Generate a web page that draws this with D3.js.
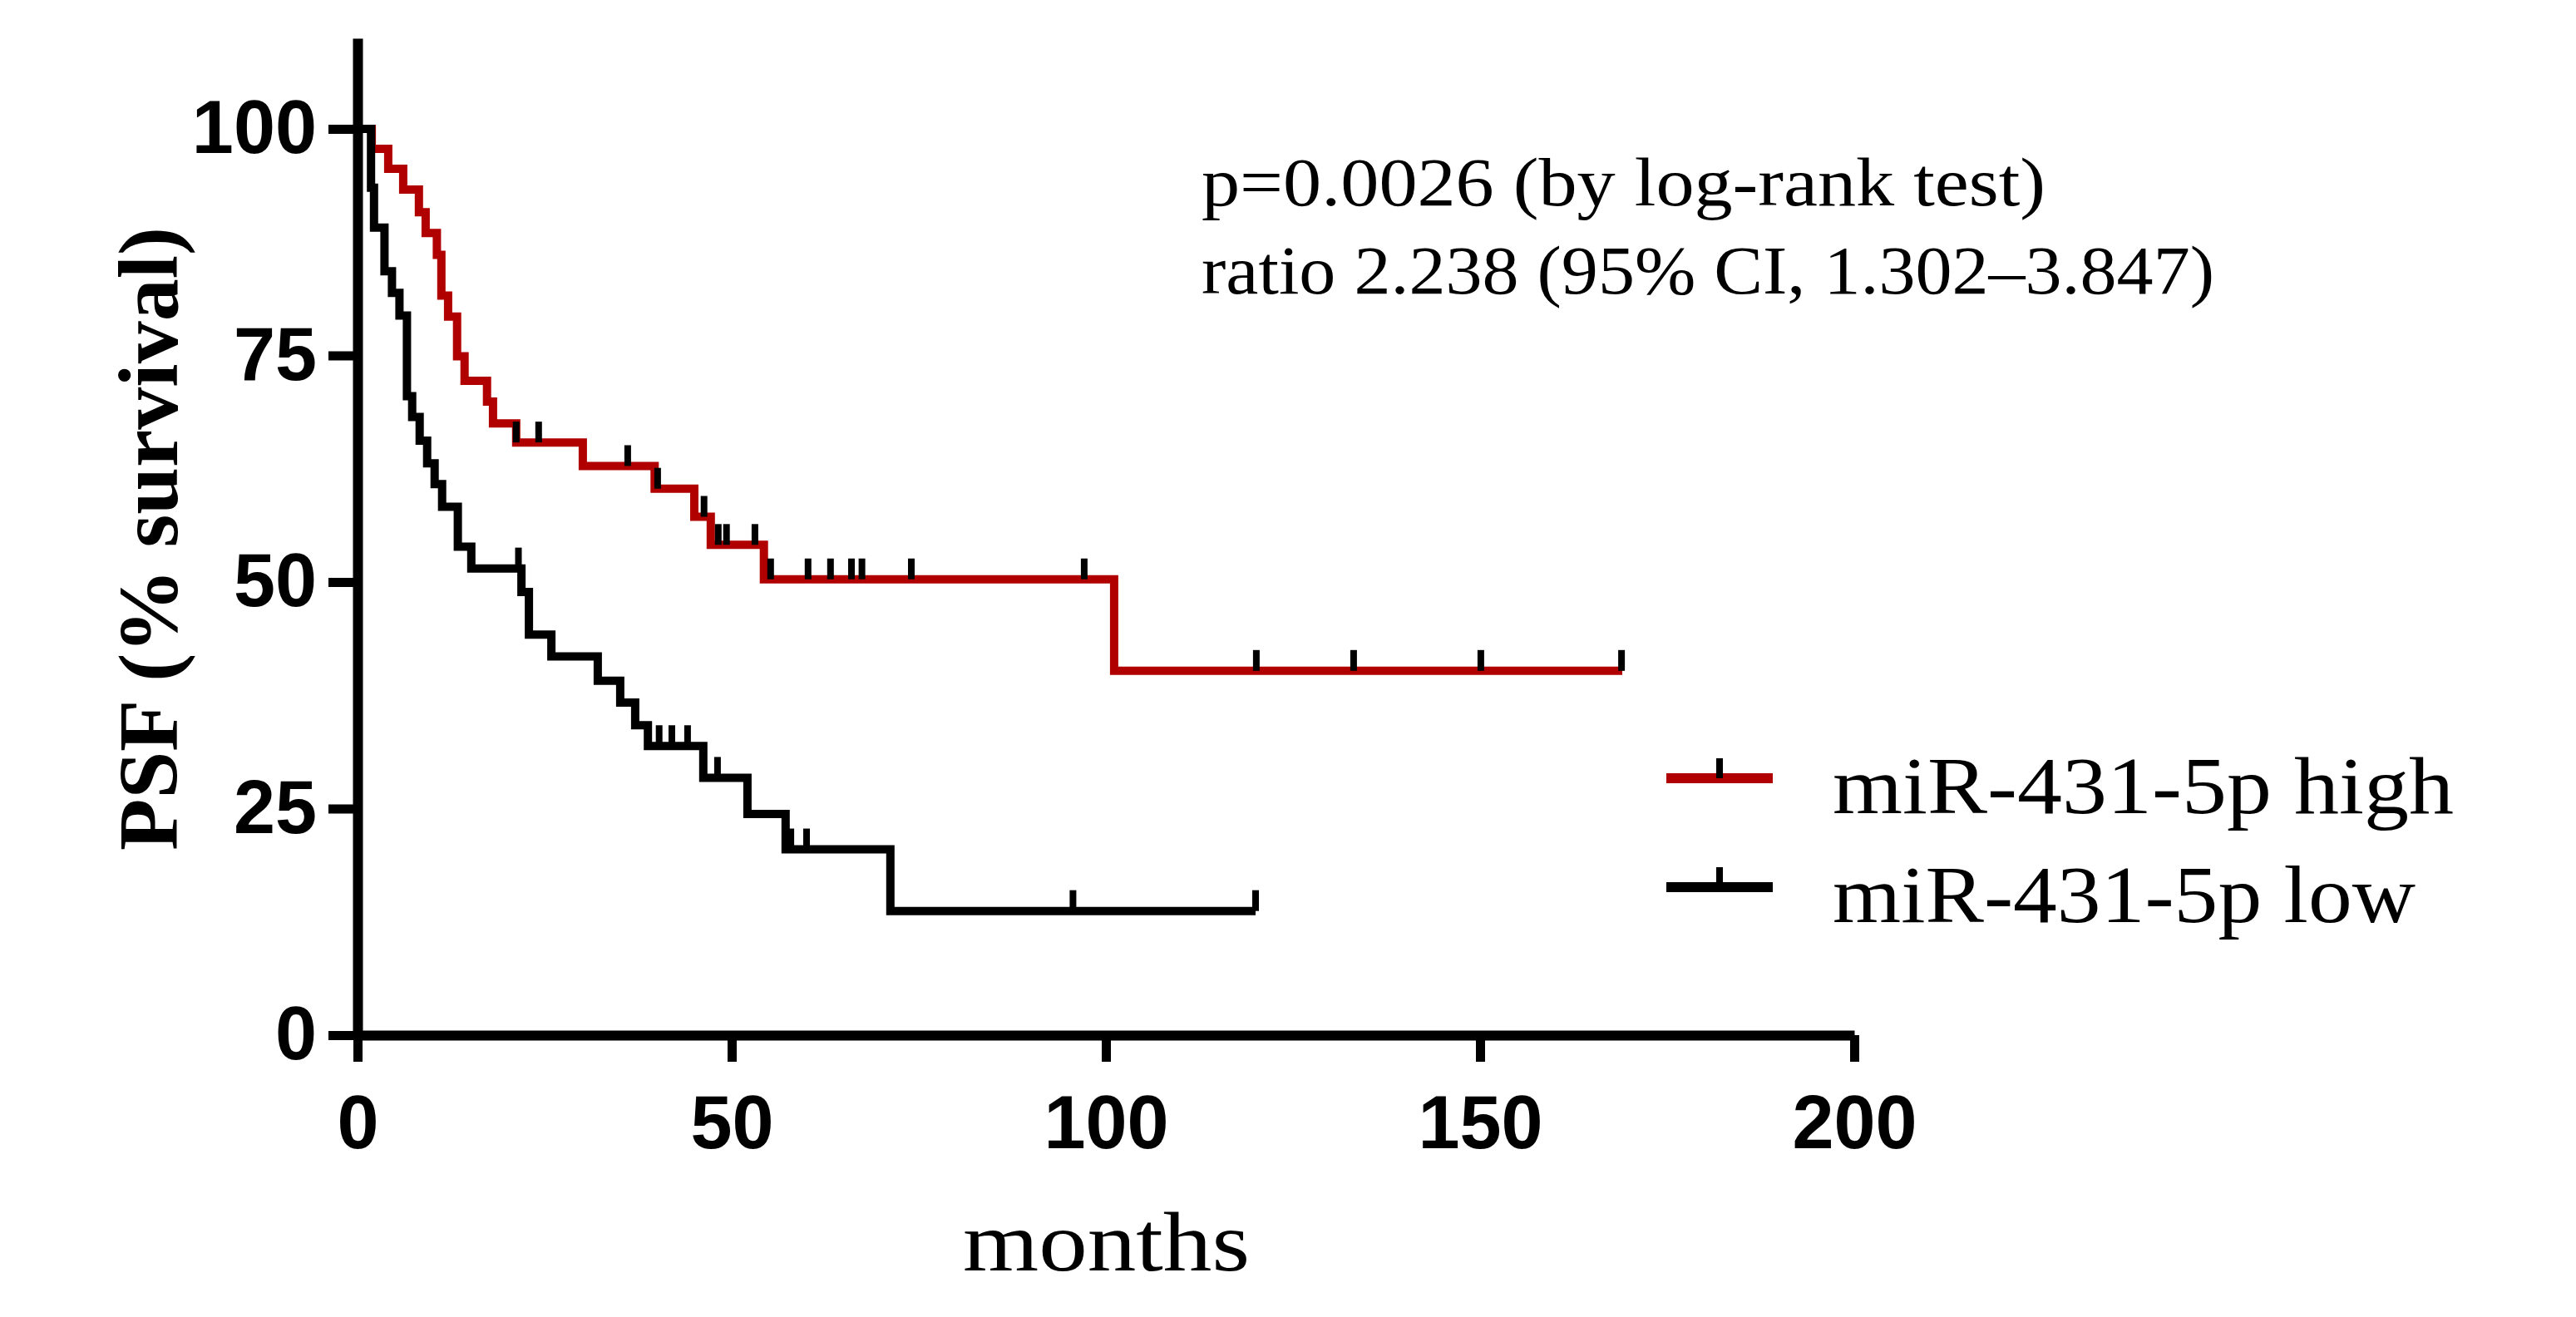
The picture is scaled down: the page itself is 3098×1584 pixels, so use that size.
<!DOCTYPE html>
<html>
<head>
<meta charset="utf-8">
<script src="https://cdn.jsdelivr.net/npm/d3@7"></script>
<style>
  html, body { margin: 0; padding: 0; background: #fff; }
  svg { display: block; }
</style>
</head>
<body>
<div id="chart"></div>
<script>
// --- Data ---
// miR-431-5p high (red): event times (months) and survival (%) after each step
const highTimes = [0, 1.9, 4.1, 6.1, 8.2, 9.1, 10.6, 11.2, 12.1, 13.3, 14.3, 17.3, 18.1, 21.2, 30.1, 39.7, 45.0, 47.2, 54.3, 101.1];
const highSurv  = [100, 97.8, 95.6, 93.3, 90.8, 88.5, 86.1, 81.6, 79.3, 74.9, 72.2, 69.9, 67.5, 65.4, 62.8, 60.3, 57.2, 54.1, 50.3, 40.2];
const highCensor = [21.2, 24.2, 36.1, 40.1, 46.3, 48.2, 49.3, 53.1, 55.2, 60.2, 63.2, 66.0, 67.4, 74.0, 97.1, 120.1, 133.1, 150.1, 168.9];
const highEnd = 169;

// miR-431-5p low (black)
const lowTimes = [0, 1.8, 2.2, 3.6, 4.6, 5.6, 6.6, 7.3, 8.3, 9.3, 10.3, 11.3, 13.4, 15.2, 21.9, 22.9, 25.9, 32.1, 35.1, 37.1, 38.8, 46.2, 52.1, 57.2, 71.2];
const lowSurv  = [100, 93.5, 89.1, 84.3, 81.9, 79.4, 70.5, 68.2, 65.6, 63.1, 60.8, 58.3, 53.9, 51.5, 48.9, 44.2, 41.8, 39.1, 36.7, 34.2, 31.9, 28.4, 24.4, 20.5, 13.7];
const lowCensor = [21.5, 40.3, 42.0, 44.1, 48.1, 57.9, 60.0, 95.6, 120.0];
const lowEnd = 120;

const xTicks = [0, 50, 100, 150, 200];
const yTicks = [0, 25, 50, 75, 100];

const seriesNames = ["miR-431-5p high", "miR-431-5p low"];
const statLines = ["p=0.0026 (by log-rank test)", "ratio 2.238 (95% CI, 1.302\u20133.847)"];

// --- Setup ---
const W = 3098, H = 1584;
const red = "#b10000";

const svg = d3.select("#chart").append("svg")
    .attr("width", W)
    .attr("height", H);

const xScale = d3.scaleLinear().domain([0, 200]).range([430, 2230]);
const yScale = d3.scaleLinear().domain([0, 110]).range([1245, 46]);

function buildSteps(times, surv, end) {
    const pts = times.map((t, i) => [t, surv[i]]);
    pts.push([end, surv[surv.length - 1]]);
    return pts;
}

function survAt(times, surv, t) {
    let s = surv[0];
    times.forEach((tt, i) => { if (tt <= t) s = surv[i]; });
    return s;
}

const stepLine = d3.line()
    .x(d => xScale(d[0]))
    .y(d => yScale(d[1]))
    .curve(d3.curveStepAfter);

// --- Axes ---
const xAxis = svg.append("g")
    .attr("transform", `translate(0, ${yScale(0)})`)
    .call(d3.axisBottom(xScale).tickValues(xTicks).tickSize(32).tickSizeOuter(0).tickPadding(40));

const yAxis = svg.append("g")
    .attr("transform", `translate(${xScale(0)}, 0)`)
    .call(d3.axisLeft(yScale).tickValues(yTicks).tickSize(35).tickSizeOuter(0).tickPadding(14));

[xAxis, yAxis].forEach(g => {
    g.select(".domain").attr("stroke", "#000").attr("stroke-width", 12);
    g.selectAll(".tick line").attr("stroke", "#000").attr("stroke-width", 11);
    g.selectAll(".tick text")
        .attr("fill", "#000")
        .style("font-family", "'Liberation Sans', Arial, sans-serif")
        .style("font-weight", "bold")
        .style("font-size", "90px");
});

// --- Curves ---
const curves = [
    { times: highTimes, surv: highSurv, end: highEnd, censor: highCensor, color: red },
    { times: lowTimes, surv: lowSurv, end: lowEnd, censor: lowCensor, color: "#000" }
];

curves.forEach(c => {
    svg.append("path")
        .datum(buildSteps(c.times, c.surv, c.end))
        .attr("fill", "none")
        .attr("stroke", c.color)
        .attr("stroke-width", 10)
        .attr("d", stepLine);
});

curves.forEach(c => {
    svg.append("g")
        .selectAll("line")
        .data(c.censor)
        .enter()
        .append("line")
            .attr("x1", d => xScale(d))
            .attr("x2", d => xScale(d))
            .attr("y1", d => yScale(survAt(c.times, c.surv, d)))
            .attr("y2", d => yScale(survAt(c.times, c.surv, d)) - 25)
            .attr("stroke", "#000")
            .attr("stroke-width", 8);
});

// --- Axis titles ---
svg.append("text")
    .attr("transform", "translate(213, 648) rotate(-90)")
    .attr("text-anchor", "middle")
    .style("font-family", "'Liberation Serif', 'Times New Roman', serif")
    .style("font-weight", "bold")
    .style("font-size", "102px")
    .text("PSF (% survival)");

svg.append("text")
    .attr("x", 1158)
    .attr("y", 1528)
    .attr("textLength", 345)
    .attr("lengthAdjust", "spacingAndGlyphs")
    .style("font-family", "'Liberation Serif', 'Times New Roman', serif")
    .style("font-size", "102px")
    .text("months");

// --- Statistics text ---
const statLengths = [1015, 1218];
statLines.forEach((s, i) => {
    svg.append("text")
        .attr("x", 1445)
        .attr("y", 247 + i * 106)
        .attr("textLength", statLengths[i])
        .attr("lengthAdjust", "spacingAndGlyphs")
        .style("font-family", "'Liberation Serif', 'Times New Roman', serif")
        .style("font-size", "82px")
        .text(s);
});

// --- Legend ---
const legendColors = [red, "#000"];
const legendLengths = [747, 701];
const legend = svg.append("g").attr("transform", "translate(2004, 936)");
seriesNames.forEach((name, i) => {
    const g = legend.append("g").attr("transform", `translate(0, ${i * 131})`);
    g.append("line")
        .attr("x1", 0).attr("x2", 128)
        .attr("stroke", legendColors[i])
        .attr("stroke-width", 12);
    g.append("line")
        .attr("x1", 64).attr("x2", 64)
        .attr("y1", 0).attr("y2", -24)
        .attr("stroke", "#000")
        .attr("stroke-width", 8);
    g.append("text")
        .attr("x", 200)
        .attr("y", 42)
        .attr("textLength", legendLengths[i])
        .attr("lengthAdjust", "spacingAndGlyphs")
        .style("font-family", "'Liberation Serif', 'Times New Roman', serif")
        .style("font-size", "98px")
        .text(name);
});
</script>
</body>
</html>
